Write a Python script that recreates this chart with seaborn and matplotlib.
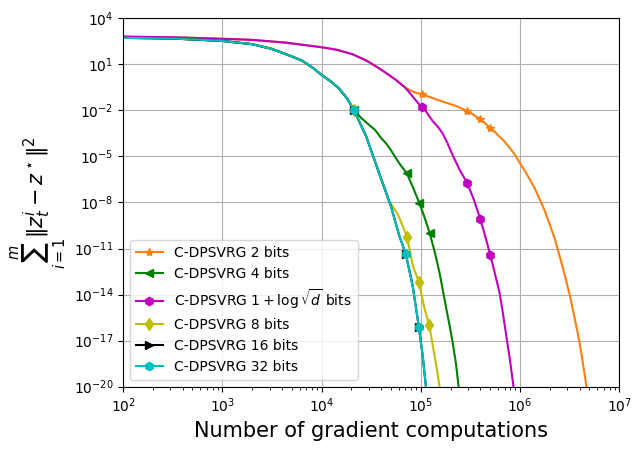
import numpy as np
import pandas as pd
import matplotlib
matplotlib.use('Agg')
import matplotlib.pyplot as plt
import seaborn as sns

# valores (exponentes en base 10)
# tramo comun de los metodos rapidos (4, 8, 16, 32 bits)
x_head = [2.0, 2.5, 3.0, 3.3, 3.5, 3.64, 3.8, 3.91, 4.0, 4.1, 4.18, 4.26, 4.326]
y_head = [2.72, 2.68, 2.52, 2.31, 2.0, 1.66, 1.25, 0.78, 0.31, -0.15, -0.6, -1.25, -1.98]

# tramo comun de 2 bits y 1+log sqrt(d) bits
x_slow = [2.0, 2.5, 3.0, 3.3, 3.64, 4.0, 4.15, 4.31, 4.45, 4.58, 4.68, 4.75, 4.84]
y_slow = [2.80, 2.76, 2.66, 2.59, 2.41, 2.11, 1.95, 1.66, 1.25, 0.74, 0.3, -0.02, -0.5]

x_2bits = x_slow + [4.90, 4.95, 5.01, 5.12, 5.22, 5.35, 5.47, 5.53, 5.60, 5.65, 5.70, 5.75,
                    5.79, 5.84, 5.89, 5.95, 6.0, 6.05, 6.094, 6.15, 6.21, 6.25, 6.295, 6.35,
                    6.40, 6.45, 6.50, 6.55, 6.60, 6.635, 6.67, 6.68]
y_2bits = y_slow + [-0.72, -0.86, -0.95, -1.2, -1.43, -1.7, -2.04, -2.28, -2.58, -2.85, -3.17,
                    -3.42, -3.70, -4.0, -4.39, -4.9, -5.45, -5.95, -6.45, -7.1, -7.95, -8.55,
                    -9.35, -10.35, -11.5, -12.7, -14.0, -15.5, -17.1, -18.5, -20.0, -20.5]
mk_2bits = [15, 19, 21, 23]

x_4bits = x_head + [4.40, 4.48, 4.54, 4.60, 4.65, 4.70, 4.75, 4.80, 4.86, 4.92, 4.987,
                    5.04, 5.09, 5.14, 5.19, 5.225, 5.26, 5.29, 5.32, 5.355, 5.39]
y_4bits = y_head + [-2.5, -2.95, -3.28, -3.8, -4.15, -4.6, -5.12, -5.6, -6.1, -7.0, -8.05,
                    -9.0, -10.0, -11.2, -12.6, -13.8, -15.0, -16.0, -17.06, -18.5, -20.5]
mk_4bits = [12, 21, 23, 25]

x_logd = x_slow + [4.90, 4.95, 5.01, 5.05, 5.12, 5.17, 5.22, 5.27, 5.32, 5.39, 5.47, 5.54,
                   5.60, 5.65, 5.70, 5.75, 5.795, 5.83, 5.86, 5.90, 5.935, 5.945]
y_logd = y_slow + [-0.95, -1.35, -1.80, -2.05, -2.7, -3.05, -3.5, -4.15, -4.9, -5.85, -6.75,
                   -7.9, -9.09, -10.2, -11.4, -12.7, -13.9, -15.3, -16.6, -18.3, -20.0, -20.5]
mk_logd = [15, 23, 25, 27]

x_8bits = x_head + [4.45, 4.58, 4.68, 4.77, 4.862, 4.92, 4.98, 5.04, 5.085, 5.14, 5.19, 5.20]
y_8bits = y_head + [-3.68, -6.05, -7.9, -8.77, -10.24, -12.13, -13.15, -14.96, -16.0,
                    -18.0, -20.0, -20.5]
mk_8bits = [12, 17, 19, 21]

x_16bits = x_head + [4.45, 4.58, 4.70, 4.785, 4.85, 4.92, 4.98, 5.02, 5.06]
y_16bits = y_head + [-3.70, -6.09, -8.26, -10.2, -11.37, -13.48, -16.08, -18.0, -20.5]
mk_16bits = [12, 17, 19]

x_32bits = list(x_16bits)
y_32bits = list(y_16bits)
mk_32bits = list(mk_16bits)

series = [
    ('C-DPSVRG 2 bits', x_2bits, y_2bits, mk_2bits, 'C1', '*'),
    ('C-DPSVRG 4 bits', x_4bits, y_4bits, mk_4bits, 'g', '<'),
    (r'C-DPSVRG $1+\log\sqrt{d}$ bits', x_logd, y_logd, mk_logd, 'm', 'h'),
    ('C-DPSVRG 8 bits', x_8bits, y_8bits, mk_8bits, 'y', 'd'),
    ('C-DPSVRG 16 bits', x_16bits, y_16bits, mk_16bits, 'k', '>'),
    ('C-DPSVRG 32 bits', x_32bits, y_32bits, mk_32bits, 'c', 'h'),
]

fig = plt.figure(figsize=(6.41, 4.51), dpi=100)
ax = fig.add_axes([0.192, 0.1426, 0.774, 0.817])
ax.set_xscale('log')
ax.set_yscale('log')

for label, xs, ys, mk, color, marker in series:
    df = pd.DataFrame({'x': 10 ** np.array(xs), 'y': 10 ** np.array(ys)})
    sns.lineplot(data=df, x='x', y='y', ax=ax, estimator=None, sort=False,
                 color=color, marker=marker, markevery=mk, markersize=6,
                 mec=color, mew=1, linewidth=1.5, label=label)

ax.set_xlim(1e2, 1e7)
ax.set_ylim(1e-20, 1e4)
ax.set_yticks([10.0 ** k for k in range(-20, 5, 3)])
ax.yaxis.set_minor_locator(matplotlib.ticker.NullLocator())
ax.grid(True, which='major')
ax.set_xlabel('Number of gradient computations', fontsize=15)
ax.set_ylabel(r'$\sum_{i=1}^{m}\|z_t^i - z^\star\|^2$', fontsize=15)
ax.legend(loc='lower left', fontsize=10)

plt.savefig('out.png', dpi=100)
